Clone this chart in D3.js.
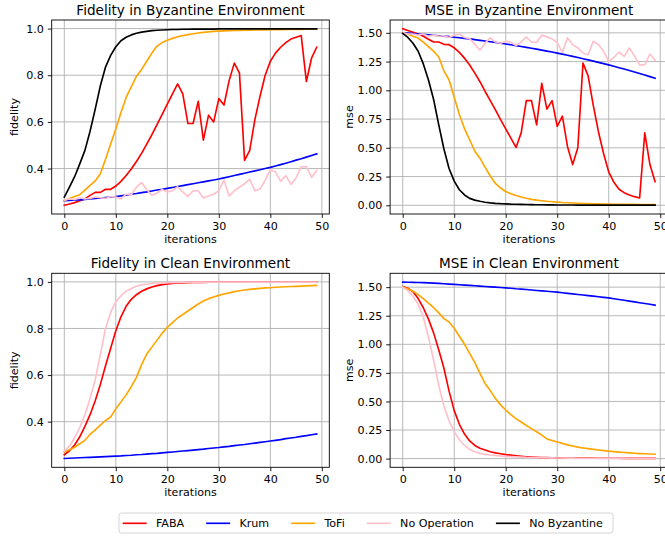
<!DOCTYPE html>
<html><head><meta charset="utf-8">
<script src="https://cdn.jsdelivr.net/npm/d3@7"></script>
<style>
body{margin:0;background:#fff}
svg{display:block}
text{font-family:"DejaVu Sans",sans-serif;fill:#000}
</style>
</head><body>
<svg id="chart" width="665" height="538"></svg>
<script>
// ---------------- data ----------------
const iterations=[0,1,2,3,4,5,6,7,8,9,10,11,12,13,14,15,16,17,18,19,20,21,22,23,24,25,26,27,28,29,30,31,32,33,34,35,36,37,38,39,40,41,42,43,44,45,46,47,48,49];
const xTicks=[0,10,20,30,40,50];
const fidTicks=[0.4,0.6,0.8,1.0];
const mseTicks=[0,0.25,0.5,0.75,1.0,1.25,1.5];
const methods=["FABA","Krum","ToFi","No Operation","No Byzantine"];
const methodColors=["red","blue","orange","pink","black"];

// Fidelity, Byzantine environment
const fidByzFABA=[0.243,0.248,0.254,0.262,0.27,0.285,0.298,0.298,0.311,0.311,0.325,0.345,0.37,0.398,0.43,0.465,0.505,0.545,0.588,0.632,0.676,0.72,0.763,0.72,0.593,0.593,0.688,0.522,0.629,0.60,0.70,0.672,0.777,0.852,0.81,0.435,0.478,0.61,0.71,0.80,0.86,0.895,0.92,0.94,0.955,0.963,0.97,0.773,0.873,0.92];
const fidByzKrum=[0.262,0.263,0.265,0.266,0.268,0.270,0.272,0.274,0.276,0.278,0.280,0.283,0.286,0.290,0.293,0.297,0.300,0.304,0.308,0.311,0.315,0.319,0.323,0.327,0.331,0.335,0.339,0.343,0.347,0.351,0.355,0.360,0.365,0.370,0.375,0.380,0.385,0.390,0.395,0.400,0.405,0.411,0.417,0.423,0.429,0.436,0.442,0.449,0.456,0.463];
const fidByzToFi=[0.263,0.272,0.28,0.288,0.308,0.328,0.347,0.378,0.44,0.505,0.57,0.64,0.705,0.75,0.795,0.825,0.86,0.895,0.925,0.94,0.95,0.958,0.965,0.97,0.974,0.978,0.981,0.984,0.986,0.988,0.989,0.990,0.991,0.992,0.992,0.993,0.993,0.994,0.994,0.994,0.995,0.995,0.995,0.996,0.996,0.996,0.996,0.997,0.997,0.997];
const fidByzNoOp=[0.265,0.27,0.268,0.275,0.27,0.272,0.278,0.275,0.272,0.28,0.278,0.27,0.29,0.288,0.32,0.34,0.31,0.285,0.295,0.31,0.30,0.305,0.322,0.30,0.28,0.305,0.305,0.274,0.282,0.29,0.305,0.35,0.282,0.305,0.32,0.335,0.354,0.305,0.312,0.35,0.395,0.385,0.345,0.37,0.332,0.36,0.408,0.408,0.362,0.392];
const fidByzNoByz=[0.277,0.32,0.365,0.42,0.478,0.56,0.655,0.755,0.835,0.885,0.922,0.948,0.963,0.973,0.98,0.985,0.988,0.991,0.993,0.994,0.995,0.996,0.996,0.997,0.997,0.998,0.998,0.998,0.998,0.998,0.999,0.999,0.999,0.999,0.999,0.999,0.999,0.999,0.999,0.999,0.999,0.999,0.999,0.999,0.999,0.999,0.999,0.999,0.999,0.999];

// MSE, Byzantine environment
const mseByzFABA=[1.535,1.52,1.505,1.49,1.47,1.445,1.42,1.42,1.40,1.397,1.37,1.33,1.28,1.22,1.15,1.075,0.99,0.91,0.83,0.745,0.665,0.585,0.503,0.63,0.91,0.91,0.70,1.06,0.836,0.91,0.687,0.775,0.51,0.354,0.50,1.237,1.126,0.87,0.64,0.45,0.29,0.20,0.14,0.11,0.09,0.075,0.064,0.63,0.354,0.205];
const mseByzKrum=[1.500,1.497,1.494,1.490,1.487,1.483,1.479,1.475,1.471,1.467,1.462,1.457,1.452,1.447,1.441,1.435,1.429,1.423,1.417,1.410,1.403,1.396,1.389,1.381,1.374,1.366,1.358,1.350,1.341,1.333,1.324,1.315,1.305,1.295,1.285,1.275,1.265,1.254,1.243,1.232,1.221,1.209,1.197,1.185,1.172,1.159,1.146,1.133,1.119,1.105];
const mseByzToFi=[1.50,1.49,1.47,1.455,1.42,1.38,1.34,1.29,1.17,1.09,0.94,0.79,0.665,0.57,0.47,0.41,0.33,0.255,0.19,0.15,0.12,0.10,0.085,0.072,0.061,0.052,0.045,0.04,0.035,0.031,0.027,0.024,0.022,0.02,0.018,0.016,0.015,0.013,0.012,0.011,0.010,0.0095,0.009,0.0085,0.008,0.0075,0.007,0.0068,0.0065,0.006];
const mseByzNoOp=[1.50,1.49,1.49,1.48,1.49,1.47,1.48,1.47,1.475,1.46,1.48,1.49,1.46,1.45,1.40,1.35,1.41,1.456,1.42,1.41,1.427,1.418,1.389,1.42,1.465,1.418,1.418,1.48,1.465,1.447,1.412,1.33,1.456,1.398,1.368,1.325,1.31,1.427,1.398,1.34,1.25,1.287,1.333,1.295,1.368,1.30,1.222,1.222,1.316,1.26];
const mseByzNoByz=[1.495,1.46,1.41,1.34,1.23,1.09,0.92,0.70,0.49,0.32,0.21,0.135,0.09,0.06,0.045,0.035,0.027,0.021,0.017,0.014,0.012,0.010,0.009,0.008,0.007,0.006,0.005,0.005,0.004,0.004,0.003,0.003,0.003,0.003,0.002,0.002,0.002,0.002,0.002,0.002,0.002,0.002,0.001,0.001,0.001,0.001,0.001,0.001,0.001,0.001];

// Fidelity, clean environment
const fidCleanFABA=[0.258,0.275,0.30,0.335,0.38,0.43,0.49,0.56,0.64,0.715,0.79,0.85,0.895,0.925,0.945,0.96,0.97,0.978,0.984,0.988,0.991,0.993,0.995,0.996,0.997,0.998,0.998,0.998,0.999,0.999,0.999,0.999,0.999,0.999,0.999,0.999,0.999,0.999,0.999,0.999,0.999,0.999,0.999,0.999,0.999,0.999,0.999,0.999,0.999,0.999];
const fidCleanKrum=[0.242,0.243,0.244,0.245,0.246,0.247,0.248,0.249,0.250,0.251,0.252,0.253,0.255,0.256,0.258,0.259,0.261,0.263,0.264,0.266,0.268,0.270,0.272,0.274,0.276,0.278,0.280,0.282,0.285,0.287,0.289,0.292,0.294,0.297,0.300,0.302,0.305,0.308,0.311,0.314,0.317,0.320,0.323,0.327,0.330,0.333,0.337,0.340,0.344,0.347];
const fidCleanToFi=[0.27,0.28,0.29,0.305,0.32,0.345,0.365,0.385,0.405,0.42,0.455,0.485,0.515,0.55,0.59,0.645,0.69,0.72,0.75,0.78,0.805,0.825,0.845,0.86,0.875,0.89,0.905,0.918,0.928,0.935,0.942,0.948,0.953,0.958,0.962,0.965,0.968,0.97,0.972,0.974,0.975,0.977,0.978,0.979,0.98,0.981,0.982,0.983,0.984,0.985];
const fidCleanNoOp=[0.275,0.295,0.33,0.375,0.43,0.50,0.58,0.69,0.80,0.87,0.915,0.94,0.96,0.972,0.981,0.987,0.99,0.993,0.995,0.996,0.997,0.997,0.998,0.998,0.998,0.999,0.999,0.999,0.999,0.999,0.999,0.999,0.999,0.999,0.999,0.999,0.999,0.999,0.999,0.999,0.999,0.999,0.999,0.999,0.999,0.999,0.999,0.999,0.999,0.999];

// MSE, clean environment
const mseCleanFABA=[1.505,1.49,1.46,1.40,1.32,1.22,1.10,0.95,0.79,0.59,0.42,0.30,0.215,0.155,0.115,0.09,0.075,0.06,0.05,0.042,0.035,0.03,0.025,0.02,0.016,0.013,0.011,0.009,0.008,0.007,0.006,0.005,0.005,0.005,0.004,0.004,0.004,0.004,0.003,0.003,0.003,0.003,0.003,0.002,0.002,0.002,0.002,0.002,0.002,0.002];
const mseCleanKrum=[1.544,1.543,1.542,1.541,1.539,1.537,1.535,1.533,1.530,1.527,1.524,1.521,1.518,1.515,1.512,1.509,1.506,1.503,1.500,1.497,1.494,1.490,1.486,1.483,1.479,1.475,1.471,1.467,1.464,1.460,1.456,1.451,1.446,1.441,1.436,1.431,1.426,1.421,1.416,1.411,1.406,1.399,1.392,1.385,1.378,1.371,1.364,1.357,1.350,1.342];
const mseCleanToFi=[1.50,1.485,1.465,1.435,1.40,1.36,1.32,1.275,1.225,1.195,1.14,1.07,1.00,0.92,0.84,0.745,0.655,0.595,0.525,0.47,0.425,0.385,0.35,0.32,0.29,0.262,0.235,0.205,0.172,0.158,0.145,0.133,0.12,0.11,0.10,0.093,0.087,0.081,0.075,0.07,0.065,0.061,0.057,0.053,0.05,0.047,0.044,0.042,0.04,0.038];
const mseCleanNoOp=[1.50,1.47,1.42,1.35,1.24,1.06,0.86,0.64,0.46,0.33,0.235,0.165,0.115,0.08,0.06,0.046,0.037,0.031,0.027,0.023,0.02,0.017,0.015,0.013,0.011,0.01,0.009,0.008,0.007,0.006,0.005,0.005,0.004,0.004,0.003,0.003,0.003,0.003,0.002,0.002,0.002,0.002,0.002,0.002,0.001,0.001,0.001,0.001,0.001,0.001];

// ---------------- layout ----------------
const svg=d3.select("#chart");
const W=277.6, H=194;
const panels=[
  {title:"Fidelity in Byzantine Environment",ylabel:"fidelity",left:51.7,top:20,ticks:fidTicks,fmt:".1f",ylOff:38,
   series:[fidByzFABA,fidByzKrum,fidByzToFi,fidByzNoOp,fidByzNoByz]},
  {title:"MSE in Byzantine Environment",ylabel:"mse",left:390.1,top:20,ticks:mseTicks,fmt:".2f",ylOff:41,
   series:[mseByzFABA,mseByzKrum,mseByzToFi,mseByzNoOp,mseByzNoByz]},
  {title:"Fidelity in Clean Environment",ylabel:"fidelity",left:51.7,top:273.3,ticks:fidTicks,fmt:".1f",ylOff:38,
   series:[fidCleanFABA,fidCleanKrum,fidCleanToFi,fidCleanNoOp]},
  {title:"MSE in Clean Environment",ylabel:"mse",left:390.1,top:273.3,ticks:mseTicks,fmt:".2f",ylOff:41,
   series:[mseCleanFABA,mseCleanKrum,mseCleanToFi,mseCleanNoOp]}
];
const tickFont=11.1, titleFont=13.6;

panels.forEach((p,pi)=>{
  const g=svg.append("g").attr("transform",`translate(${p.left},${p.top})`);
  const xMin=d3.min(iterations), xMax=d3.max(iterations), xm=(xMax-xMin)*0.05;
  const x=d3.scaleLinear().domain([xMin-xm,xMax+xm]).range([0,W]);
  const all=p.series.flat();
  const lo=d3.min(all), hi=d3.max(all), m=(hi-lo)*0.05;
  const y=d3.scaleLinear().domain([lo-m,hi+m]).range([H,0]);

  // grid
  const grid=g.append("g");
  grid.selectAll("line.gx").data(xTicks).join("line")
    .attr("x1",d=>x(d)).attr("x2",d=>x(d)).attr("y1",0).attr("y2",H)
    .attr("stroke","#b0b0b0").attr("stroke-width",0.9);
  grid.selectAll("line.gy").data(p.ticks).join("line")
    .attr("x1",0).attr("x2",W).attr("y1",d=>y(d)).attr("y2",d=>y(d))
    .attr("stroke","#b0b0b0").attr("stroke-width",0.9);

  // lines
  const clipId="clip"+pi;
  g.append("clipPath").attr("id",clipId).append("rect").attr("width",W).attr("height",H);
  const line=d3.line().x((d,i)=>x(iterations[i])).y(d=>y(d));
  const lg=g.append("g").attr("clip-path",`url(#${clipId})`);
  p.series.forEach((s,si)=>{
    lg.append("path").datum(s).attr("d",line).attr("fill","none")
      .attr("stroke",methodColors[si]).attr("stroke-width",1.65)
      .attr("stroke-linejoin","round").attr("stroke-linecap","square");
  });

  // axes
  const xa=g.append("g").attr("transform",`translate(0,${H})`)
    .call(d3.axisBottom(x).tickValues(xTicks).tickFormat(d3.format("d")).tickSize(3.9).tickPadding(3.9));
  const ya=g.append("g")
    .call(d3.axisLeft(y).tickValues(p.ticks).tickFormat(d3.format(p.fmt)).tickSize(3.9).tickPadding(3.9));
  [xa,ya].forEach(a=>{
    a.select(".domain").remove();
    a.selectAll("line").attr("stroke","#000").attr("stroke-width",0.9);
    a.selectAll("text").attr("font-size",tickFont).attr("font-family","DejaVu Sans").attr("fill","#000");
  });

  // spines
  g.append("rect").attr("width",W).attr("height",H).attr("fill","none")
    .attr("stroke","#000").attr("stroke-width",0.9);

  // labels
  g.append("text").attr("x",W/2).attr("y",-5).attr("text-anchor","middle")
    .attr("font-size",titleFont).text(p.title);
  g.append("text").attr("x",W/2).attr("y",H+29).attr("text-anchor","middle")
    .attr("font-size",tickFont).text("iterations");
  g.append("text").attr("transform",`translate(${-p.ylOff},${H/2}) rotate(-90)`)
    .attr("text-anchor","middle").attr("dy","0.35em").attr("font-size",tickFont).text(p.ylabel);
});

// ---------------- legend ----------------
const leg=svg.append("g");
const legBox=leg.append("rect").attr("x",119).attr("y",513).attr("width",494).attr("height",20)
  .attr("rx",2.5).attr("fill","#fff").attr("stroke","#d0d0d0").attr("stroke-width",0.9);
let cx=122.7; const cy=523.3;
methods.forEach((name,i)=>{
  leg.append("line").attr("x1",cx).attr("x2",cx+24).attr("y1",cy).attr("y2",cy)
    .attr("stroke",methodColors[i]).attr("stroke-width",1.65);
  const t=leg.append("text").attr("x",cx+33.3).attr("y",cy).attr("dy","0.35em")
    .attr("font-size",tickFont).text(name);
  const w=t.node().getComputedTextLength();
  cx=cx+33.3+w+22;
});
</script>
</body></html>
